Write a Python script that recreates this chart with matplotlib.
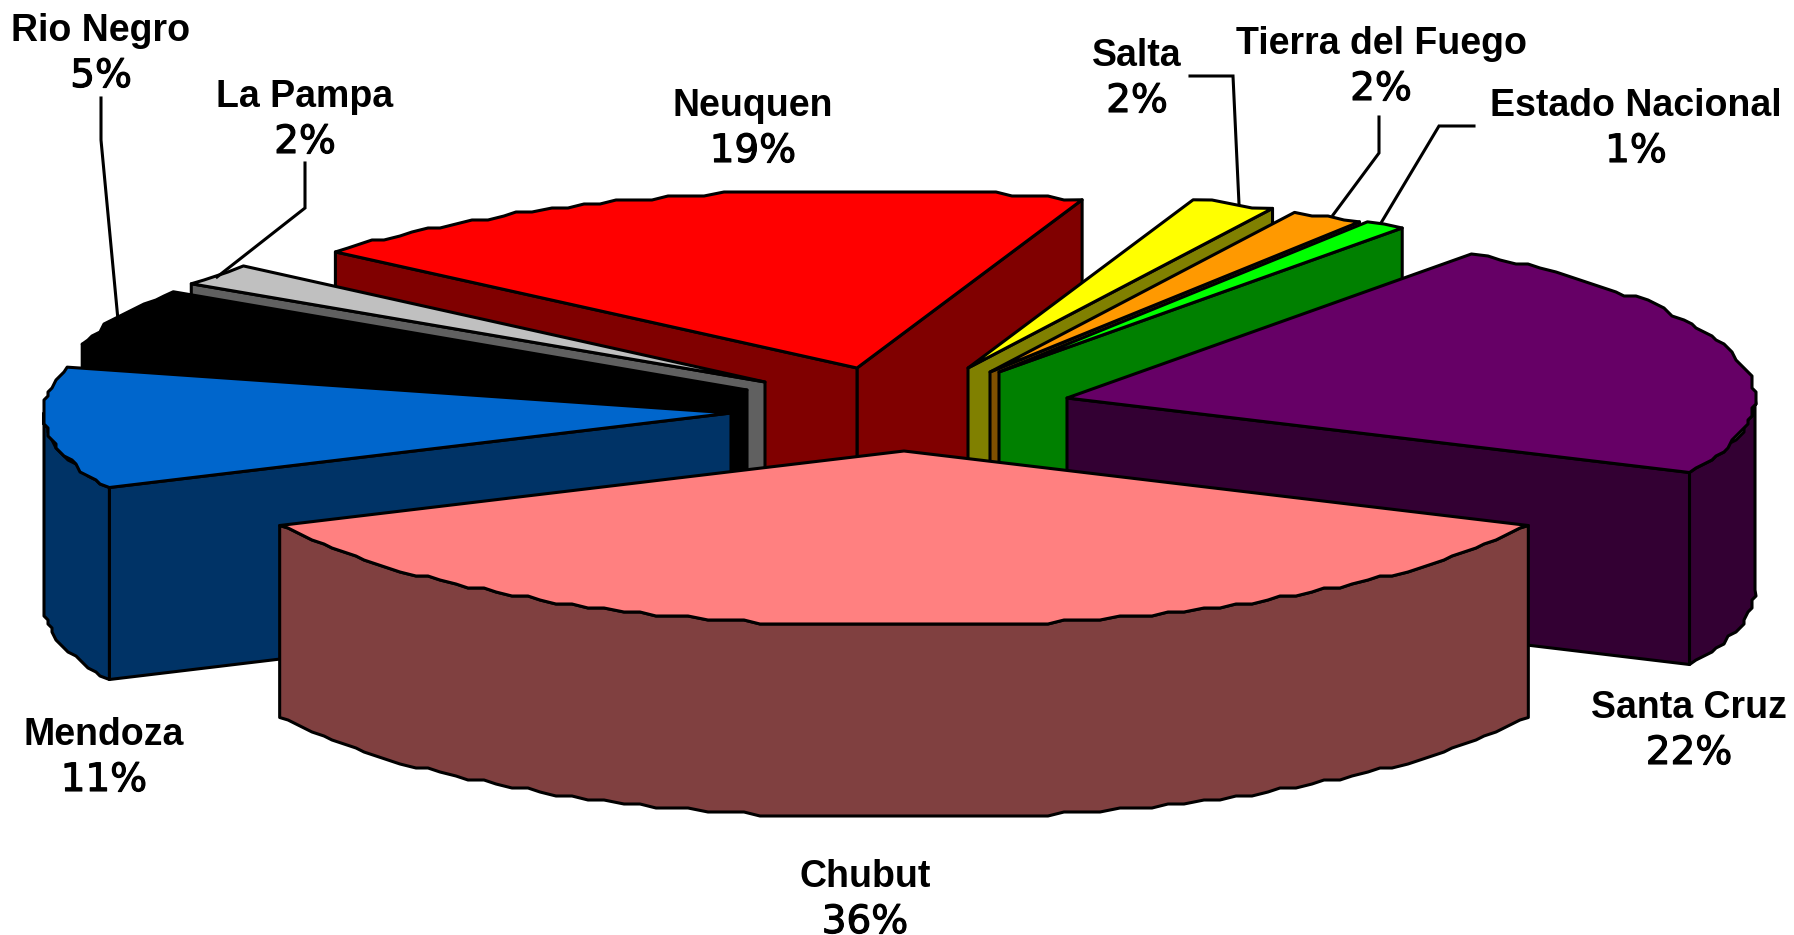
import numpy as np
import matplotlib
matplotlib.use("Agg")
import matplotlib.pyplot as plt
import matplotlib.patheffects as pe
from matplotlib.patches import Polygon

# data, going round the pie from the front slice
names = ["Chubut", "Santa Cruz", "Estado Nacional", "Tierra del Fuego", "Salta",
         "Neuquen", "La Pampa", "Rio Negro", "Mendoza"]
values = [36, 22, 1, 2, 2, 19, 2, 5, 11]

top_colors = ["#FF8080", "#660066", "#00FF00", "#FF9900", "#FFFF00",
              "#FF0000", "#C0C0C0", "#000000", "#0066CC"]
side_colors = ["#804040", "#330033", "#008000", "#805000", "#808000",
               "#800000", "#606060", "#000000", "#003366"]

# slice tips after the explosion, in image pixels
tip_x = [904, 1067, 999, 990, 968, 857, 765, 747, 731]
tip_y = [451, 398, 372, 372, 368, 368, 382, 390, 413]
rim_x = [690, 688, 686, 688, 688, 688, 688, 688, 687]

label_x = [865, 1689, 1636, 1381, 1137, 753, 305, 101, 104]
label_y = [897, 728, 126, 64, 76, 126, 117, 51, 755]

leaders = [
    [(101, 98), (101, 140), (118, 320)],
    [(305, 163), (305, 208), (217, 277)],
    [(1190, 76), (1233, 76), (1239, 204)],
    [(1379, 117), (1379, 153), (1333, 215)],
    [(1474, 126), (1439, 126), (1381, 223)],
]

ry_front, ry_back, depth = 175, 178, 192
grid = 4
lw = 2.2


def point(cx, cy, deg, rx):
    # the back of the pie sits a little off the plain ellipse
    deg = np.asarray(deg, dtype=float)
    shift = np.interp(np.mod(deg, 360), [0, 147, 155, 240, 270, 360], [0, 0, 1.1, 1.1, 0, 0])
    t = np.radians(deg - shift)
    c = np.cos(t)
    return cx + rx * np.sin(t), cy + np.where(c > 0, ry_front, ry_back) * c


def arc(cx, cy, a, b, rx):
    # the outline in the source is stepped, not smooth
    n = max(int(abs(b - a) / 1.5), 1)
    x, y = point(cx, cy, np.linspace(a, b, n + 1), rx)
    x = np.round(x / grid) * grid
    y = np.round(y / grid) * grid
    x[0], y[0] = point(cx, cy, a, rx)
    x[-1], y[-1] = point(cx, cy, b, rx)
    return np.column_stack([x, y])


def draw_slice(ax, i, a, b):
    cx, cy, rx = tip_x[i], tip_y[i], rim_x[i]
    down = np.array([0, depth])
    tip = np.array([cx, cy], dtype=float)

    # cut faces
    for edge, show in ((a, np.sin(np.radians(a)) > 0), (b, np.sin(np.radians(b)) < 0)):
        if show:
            p = np.array(point(cx, cy, edge, rx))
            ax.add_patch(Polygon([tip, p, p + down, tip + down], fc=side_colors[i],
                                 ec="black", lw=lw, joinstyle="round"))

    # outer wall, only the part that faces us
    if a < 90 and b > -90:
        w = arc(cx, cy, max(a, -90), min(b, 90), rx)
        ax.add_patch(Polygon(np.vstack([w, (w + down)[::-1]]), fc=side_colors[i],
                             ec="black", lw=lw, joinstyle="round"))
    if b > 270:
        w = arc(cx, cy, max(a, 270), b, rx)
        ax.add_patch(Polygon(np.vstack([w, (w + down)[::-1]]), fc=side_colors[i],
                             ec="black", lw=lw, joinstyle="round"))

    # top
    ax.add_patch(Polygon(np.vstack([tip, arc(cx, cy, a, b, rx)]), fc=top_colors[i],
                         ec="black", lw=lw, joinstyle="round"))


fig = plt.figure(figsize=(17.94, 9.35), dpi=100)
ax = fig.add_axes([0, 0, 1, 1])
ax.set_xlim(0, 1794)
ax.set_ylim(935, 0)
ax.axis("off")

sweep = np.array(values) / sum(values) * 360
starts = -sweep[0] / 2 + np.concatenate([[0], np.cumsum(sweep)[:-1]])
ends = starts + sweep

# back slices first, so the front ones cover them
mids = (starts + ends) / 2
for i in sorted(range(len(values)), key=lambda k: np.cos(np.radians(mids[k]))):
    draw_slice(ax, i, starts[i], ends[i])

for pts in leaders:
    xs, ys = zip(*pts)
    ax.plot(xs, ys, color="black", lw=lw, solid_joinstyle="miter")

for i, name in enumerate(names):
    ax.text(label_x[i], label_y[i] - 10, name, ha="center", va="baseline",
            fontsize=27, fontweight="bold", family="Liberation Sans")
    ax.text(label_x[i], label_y[i] + 36, f"{values[i]}%", ha="center", va="baseline",
            fontsize=28, family="DejaVu Sans",
            path_effects=[pe.withStroke(linewidth=0.8, foreground="black")])

fig.savefig("out.png", dpi=100)
